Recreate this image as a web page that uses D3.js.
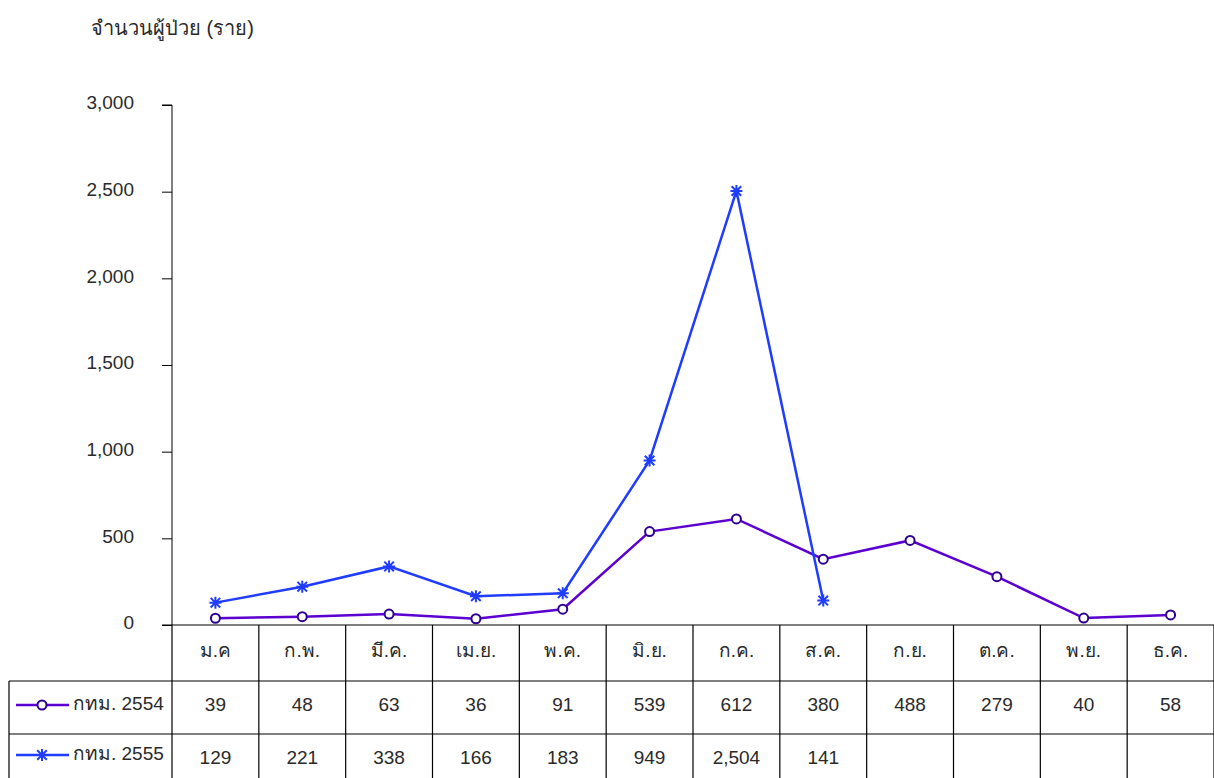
<!DOCTYPE html>
<meta charset="utf-8">
<script src="https://d3js.org/d3.v7.min.js"></script>
<style>
  body { margin: 0; background: #fff; }
  svg text { font-family: "Liberation Sans", Arial, "Noto Sans", sans-serif; fill: #2a2a2a; }
</style>
<div id="chart"></div>
<script>
const months = ["ม.ค", "ก.พ.", "มี.ค.", "เม.ย.", "พ.ค.", "มิ.ย.", "ก.ค.", "ส.ค.", "ก.ย.", "ต.ค.", "พ.ย.", "ธ.ค."];
const values2554 = [39, 48, 63, 36, 91, 539, 612, 380, 488, 279, 40, 58];
const values2555 = [129, 221, 338, 166, 183, 949, 2504, 141];
const seriesNames = ["กทม. 2554", "กทม. 2555"];
const yTicks = [0, 500, 1000, 1500, 2000, 2500, 3000];

const W = 1214, H = 778;
const plotLeft = 172, plotRight = 1214, plotTop = 105, plotBottom = 625;
const rowBottoms = [681, 734, 790];
const fontSize = "19px";

const svg = d3.select("#chart").append("svg")
    .attr("width", W).attr("height", H);

const x = d3.scaleBand().domain(months).range([plotLeft, plotRight]);
const y = d3.scaleLinear().domain([0, 3000]).range([plotBottom, plotTop]);

// y axis title
svg.append("text")
    .attr("x", 91).attr("y", 35)
    .style("font-size", "20px")
    .text("จำนวนผู้ป่วย (ราย)");

// y axis
const yAxis = svg.append("g")
    .attr("transform", `translate(${plotLeft},0)`)
    .call(d3.axisLeft(y).tickValues(yTicks).tickSize(10).tickPadding(28)
        .tickFormat(d3.format(",")));
yAxis.select(".domain").attr("d", `M${-10},${plotTop}H0V${plotBottom}`).attr("stroke", "#000");
yAxis.selectAll(".tick line").attr("stroke", "#000");
yAxis.selectAll(".tick text")
    .style("font-size", fontSize)
    .attr("dy", "0.2em");

// table grid
const grid = svg.append("g").attr("stroke", "#000").attr("stroke-width", 1.2).attr("fill", "none");
grid.append("line").attr("x1", plotLeft - 10).attr("x2", plotRight).attr("y1", plotBottom).attr("y2", plotBottom);
grid.append("line").attr("x1", 9).attr("x2", plotRight).attr("y1", rowBottoms[0]).attr("y2", rowBottoms[0]);
grid.append("line").attr("x1", 9).attr("x2", plotRight).attr("y1", rowBottoms[1]).attr("y2", rowBottoms[1]);
grid.append("line").attr("x1", 9).attr("x2", 9).attr("y1", rowBottoms[0]).attr("y2", H);
grid.append("line").attr("x1", plotLeft).attr("x2", plotLeft).attr("y1", plotBottom).attr("y2", H);
months.forEach(m => {
  grid.append("line")
    .attr("x1", x(m) + x.bandwidth()).attr("x2", x(m) + x.bandwidth())
    .attr("y1", plotBottom).attr("y2", H);
});

// month labels
svg.append("g").selectAll("text").data(months).join("text")
    .attr("x", d => x(d) + x.bandwidth() / 2)
    .attr("y", 657)
    .attr("text-anchor", "middle")
    .style("font-size", fontSize)
    .text(d => d);

// value rows
const fmt = d3.format(",");
const rowText = [711, 764];
[values2554, values2555].forEach((vals, r) => {
  svg.append("g").selectAll("text").data(vals).join("text")
      .attr("x", (d, i) => x(months[i]) + x.bandwidth() / 2)
      .attr("y", rowText[r])
      .attr("text-anchor", "middle")
      .style("font-size", fontSize)
      .text(d => fmt(d));
});

const colors = ["#5b00d0", "#1f3cff"];
const markerStroke = ["#2e0090", "#1f3cff"];

function star(g, cx, cy, color) {
  const s = 6;
  g.append("path")
    .attr("d", `M${cx - s},${cy}H${cx + s}M${cx - s * 0.8},${cy - s * 0.8}L${cx + s * 0.8},${cy + s * 0.8}M${cx - s * 0.8},${cy + s * 0.8}L${cx + s * 0.8},${cy - s * 0.8}M${cx},${cy - s}V${cy + s}`)
    .attr("stroke", color).attr("stroke-width", 2).attr("fill", "none");
}

const line = d3.line()
    .x((d, i) => x(months[i]) + x.bandwidth() / 2)
    .y(d => y(d));

// series 2554
svg.append("path").datum(values2554)
    .attr("d", line).attr("fill", "none")
    .attr("stroke", colors[0]).attr("stroke-width", 2.5);
svg.append("g").selectAll("circle").data(values2554).join("circle")
    .attr("cx", (d, i) => x(months[i]) + x.bandwidth() / 2)
    .attr("cy", d => y(d))
    .attr("r", 4.5)
    .attr("fill", "#fff").attr("stroke", markerStroke[0]).attr("stroke-width", 2);

// series 2555
svg.append("path").datum(values2555)
    .attr("d", line).attr("fill", "none")
    .attr("stroke", colors[1]).attr("stroke-width", 2.5);
const stars = svg.append("g");
values2555.forEach((d, i) => star(stars, x(months[i]) + x.bandwidth() / 2, y(d), colors[1]));

// legend keys in the table
const legendY = [705, 755];
seriesNames.forEach((name, r) => {
  const ly = legendY[r];
  const g = svg.append("g");
  g.append("line").attr("x1", 16).attr("x2", 69).attr("y1", ly).attr("y2", ly)
    .attr("stroke", colors[r]).attr("stroke-width", 2.5);
  if (r === 0) {
    g.append("circle").attr("cx", 42).attr("cy", ly).attr("r", 4.5)
      .attr("fill", "#fff").attr("stroke", markerStroke[0]).attr("stroke-width", 2);
  } else {
    star(g, 42, ly, colors[1]);
  }
  g.append("text").attr("x", 73).attr("y", ly + 5)
    .style("font-size", fontSize).text(name);
});
</script>
